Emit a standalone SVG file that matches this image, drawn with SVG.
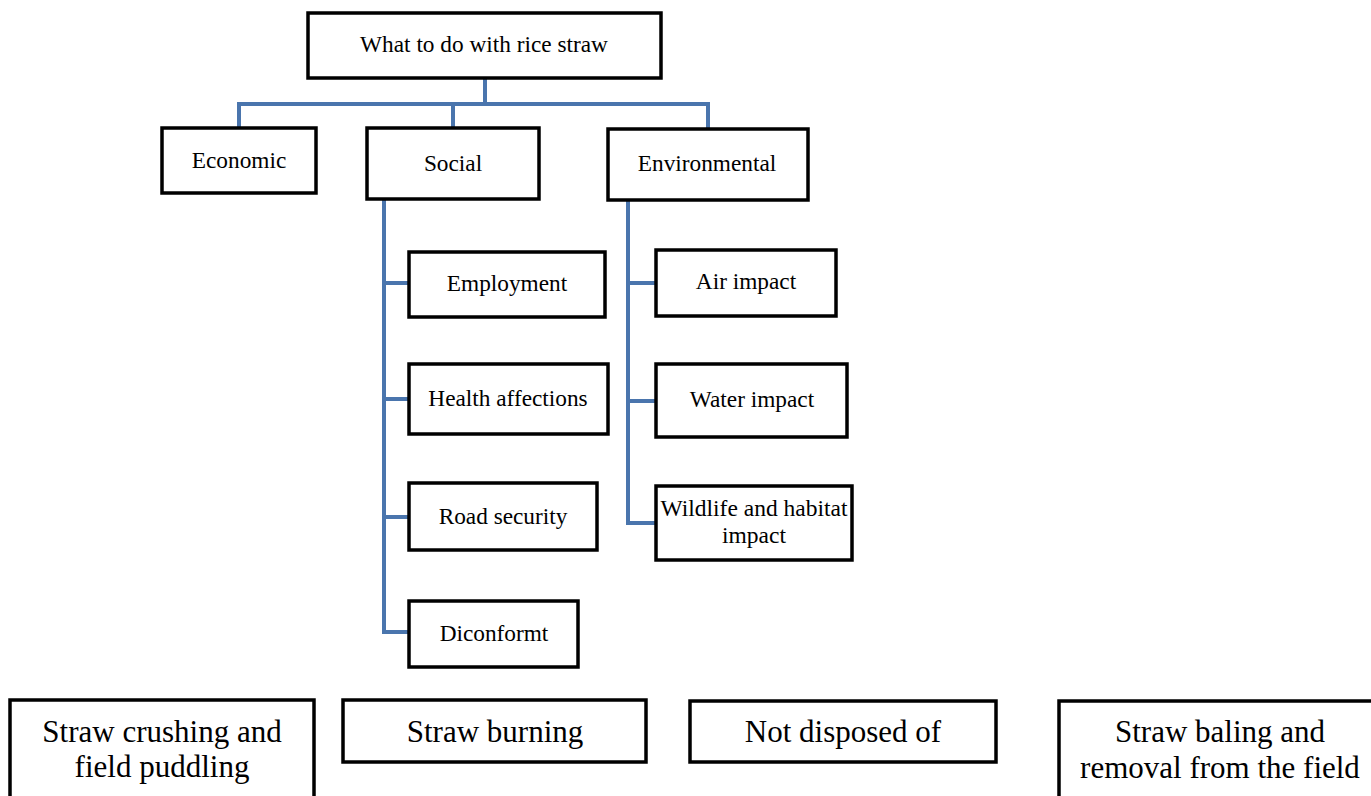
<svg xmlns="http://www.w3.org/2000/svg" width="1371" height="796" viewBox="0 0 1371 796">
<style>
.box{fill:#fff;stroke:#000;stroke-width:3.5}
.t{font-family:"Liberation Serif","Times New Roman",serif;font-size:23.3px;text-anchor:middle;fill:#000}
.b{font-family:"Liberation Serif","Times New Roman",serif;font-size:31px;text-anchor:middle;fill:#000}
.c{fill:none;stroke:#4a75ad;stroke-width:4}
</style>
<rect width="1371" height="796" fill="#fff"/>
<g id="connectors">
<path class="c" d="M485 79V104M239 128V104H708V129M453 104V128"/>
<path class="c" d="M384 199V632H409M384 283H409M384 399H409M384 517H409"/>
<path class="c" d="M628 200V523H656M628 283H656M628 401H656"/>
</g>
<g id="root"><rect class="box" x="308" y="13" width="353" height="65"/><text class="t" x="484" y="52">What to do with rice straw</text></g>
<g id="economic"><rect class="box" x="162" y="128" width="154" height="65"/><text class="t" x="239" y="168">Economic</text></g>
<g id="social"><rect class="box" x="367" y="128" width="172" height="71"/><text class="t" x="453" y="171">Social</text></g>
<g id="environmental"><rect class="box" x="608" y="129" width="200" height="71"/><text class="t" x="707" y="171">Environmental</text></g>
<g id="employment"><rect class="box" x="409" y="252" width="196" height="65"/><text class="t" x="507" y="291">Employment</text></g>
<g id="health"><rect class="box" x="409" y="364" width="199" height="70"/><text class="t" x="508" y="406">Health affections</text></g>
<g id="road"><rect class="box" x="409" y="483" width="188" height="67"/><text class="t" x="503" y="524">Road security</text></g>
<g id="diconformt"><rect class="box" x="409" y="601" width="169" height="66"/><text class="t" x="494" y="641">Diconformt</text></g>
<g id="air"><rect class="box" x="656" y="250" width="180" height="66"/><text class="t" x="746" y="289">Air impact</text></g>
<g id="water"><rect class="box" x="656" y="364" width="191" height="73"/><text class="t" x="752" y="407">Water impact</text></g>
<g id="wildlife"><rect class="box" x="656" y="486" width="196" height="74"/><text class="t" x="754" y="516" style="font-size:23.5px">Wildlife and habitat</text><text class="t" x="754" y="543" style="font-size:23.5px">impact</text></g>
<g id="crushing"><rect class="box" x="10" y="700" width="304" height="120"/><text class="b" x="162" y="742">Straw crushing and</text><text class="b" x="162" y="777">field puddling</text></g>
<g id="burning"><rect class="box" x="343" y="700" width="303" height="62"/><text class="b" x="495" y="742">Straw burning</text></g>
<g id="notdisposed"><rect class="box" x="690" y="701" width="306" height="61"/><text class="b" x="843" y="742">Not disposed of</text></g>
<g id="baling"><rect class="box" x="1059" y="701" width="330" height="120"/><text class="b" x="1220" y="742">Straw baling and</text><text class="b" x="1220" y="778">removal from the field</text></g>
</svg>
